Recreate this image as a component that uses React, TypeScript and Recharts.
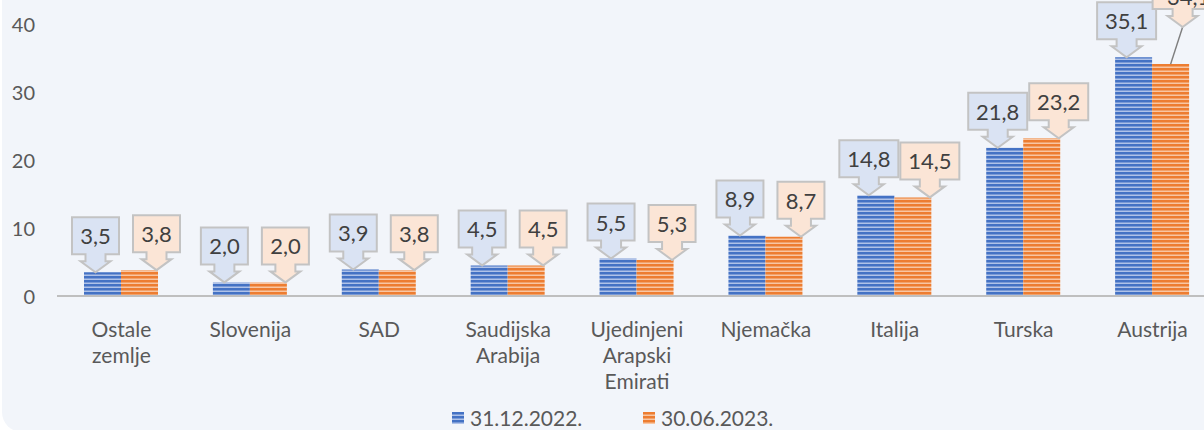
import React from 'react';
import { BarChart, Bar, XAxis, YAxis, LabelList, Legend } from 'recharts';

const categories = [
  'Ostale\nzemlje',
  'Slovenija',
  'SAD',
  'Saudijska\nArabija',
  'Ujedinjeni\nArapski\nEmirati',
  'Njemačka',
  'Italija',
  'Turska',
  'Austrija',
];
const series2022 = [3.5, 2.0, 3.9, 4.5, 5.5, 8.9, 14.8, 21.8, 35.1];
const series2023 = [3.8, 2.0, 3.8, 4.5, 5.3, 8.7, 14.5, 23.2, 34.1];
const yTicks = [0, 10, 20, 30, 40];
const seriesNames = ['31.12.2022.', '30.06.2023.'];

const data = categories.map((c, i) => ({ name: c, a: series2022[i], b: series2023[i] }));

const FONT = 'Lato, "Noto Sans", sans-serif';
const TEXT = '#595959';
const fmt = (v: number) => Number(v).toFixed(1).replace('.', ',');

function makeCallout(fill: string, shift: number, lifted: boolean) {
  return (props: any) => {
    const { x, y, width, value, index } = props;
    const bx = Number(x);
    const by = Number(y);
    const bw = Number(width);
    const label = fmt(value);
    const barCx = bx + bw / 2;
    let w = 12 * label.length + 11;
    const h = 37;
    let tipX = barCx + shift;
    let tipY = by;
    let leader: any = null;
    let boxCx = tipX;
    let textShift = 0;
    if (lifted && index === categories.length - 1) {
      tipX = barCx + 12;
      tipY = by - 37;
      boxCx = tipX + 6;
      w = 72;
      textShift = 6;
      leader = (
        <line x1={barCx} y1={by} x2={tipX} y2={tipY} stroke="#7F7F7F" strokeWidth={1.5} />
      );
    }
    const bottom = tipY - 18;
    const top = bottom - h;
    const l = boxCx - w / 2;
    const r = boxCx + w / 2;
    const sw = 10;
    const hw = 15;
    const sl = 7;
    const d = `M${l},${top} H${r} V${bottom} H${tipX + sw} V${bottom + sl} H${tipX + hw} L${tipX},${tipY} L${tipX - hw},${bottom + sl} H${tipX - sw} V${bottom} H${l} Z`;
    return (
      <g>
        {leader}
        <path d={d} fill={fill} stroke="#C3C3C3" strokeWidth={2} strokeLinejoin="miter" />
        <text
          x={boxCx}
          y={bottom - h / 2 + textShift}
          textAnchor="middle"
          dominantBaseline="central"
          fontFamily={FONT}
          fontSize={22}
          fill="#404040"
        >
          {label}
        </text>
      </g>
    );
  };
}

const XTick = (props: any) => {
  const { x, y, payload } = props;
  const lines = String(payload.value).split('\n');
  return (
    <g>
      {lines.map((ln, i) => (
        <text
          key={i}
          x={x}
          y={y + 24 + i * 26}
          textAnchor="middle"
          dominantBaseline="central"
          fontFamily={FONT}
          fontSize={21}
          fill={TEXT}
        >
          {ln}
        </text>
      ))}
    </g>
  );
};

const YTick = (props: any) => {
  const { y, payload } = props;
  return (
    <text x={35} y={y} textAnchor="end" dominantBaseline="central" fontFamily={FONT} fontSize={20} fill={TEXT}>
      {payload.value}
    </text>
  );
};

const patternIds = ['stripeBlue', 'stripeOrange'];

const renderLegend = () => (
  <div style={{ display: 'flex', fontFamily: FONT, fontSize: 21, color: TEXT, lineHeight: '24px' }}>
    {seriesNames.map((n, i) => (
      <div key={n} style={{ width: 191, display: 'flex', alignItems: 'center' }}>
        <svg width={12} height={12} style={{ display: 'block' }}>
          <rect x={0} y={0} width={12} height={12} fill={`url(#${patternIds[i]})`} />
        </svg>
        <span style={{ marginLeft: 6 }}>{n}</span>
      </div>
    ))}
  </div>
);

export default function App() {
  return (
    <div
      style={{
        position: 'absolute',
        left: 0,
        top: 0,
        width: 1204,
        height: 430,
        overflow: 'hidden',
        background: '#FFFFFF',
      }}
    >
      <svg width={0} height={0} style={{ position: 'absolute' }}>
        <defs>
          <pattern id="stripeBlue" patternUnits="userSpaceOnUse" width={4} height={4}>
            <rect x={0} y={0} width={4} height={4} fill="#4472C4" />
            <rect x={0} y={2.5} width={4} height={1.5} fill="#AFC2E8" />
          </pattern>
          <pattern id="stripeOrange" patternUnits="userSpaceOnUse" width={4} height={4}>
            <rect x={0} y={0} width={4} height={4} fill="#ED7D31" />
            <rect x={0} y={2.5} width={4} height={1.5} fill="#F8C6A3" />
          </pattern>
        </defs>
      </svg>
      <div
        style={{
          position: 'absolute',
          left: 2,
          top: -20,
          width: 1300,
          height: 452,
          background: '#F2F5FA',
          borderBottomLeftRadius: 20,
        }}
      />
      <div style={{ position: 'absolute', left: 0, top: -40 }}>
        <BarChart
          width={1260}
          height={470}
          data={data}
          margin={{ top: 64, right: 43, left: 0, bottom: 34 }}
          barSize={37}
          barGap={0}
        >
          <XAxis
            dataKey="name"
            axisLine={{ stroke: '#BFBFBF', strokeWidth: 2 }}
            tickLine={false}
            tick={<XTick />}
            interval={0}
            height={100}
          />
          <YAxis
            domain={[0, 40]}
            ticks={yTicks}
            axisLine={false}
            tickLine={false}
            tick={<YTick />}
            width={57}
          />
          <Legend
            layout="horizontal"
            verticalAlign="middle"
            align="center"
            content={renderLegend}
            wrapperStyle={{ left: 452, top: 446, width: 420 }}
          />
          <Bar dataKey="a" name={seriesNames[0]} fill="url(#stripeBlue)" isAnimationActive={false}>
            <LabelList dataKey="a" content={makeCallout('#DAE3F3', -7, false)} />
          </Bar>
          <Bar dataKey="b" name={seriesNames[1]} fill="url(#stripeOrange)" isAnimationActive={false}>
            <LabelList dataKey="b" content={makeCallout('#FBE5D6', 17, true)} />
          </Bar>
        </BarChart>
      </div>
    </div>
  );
}
